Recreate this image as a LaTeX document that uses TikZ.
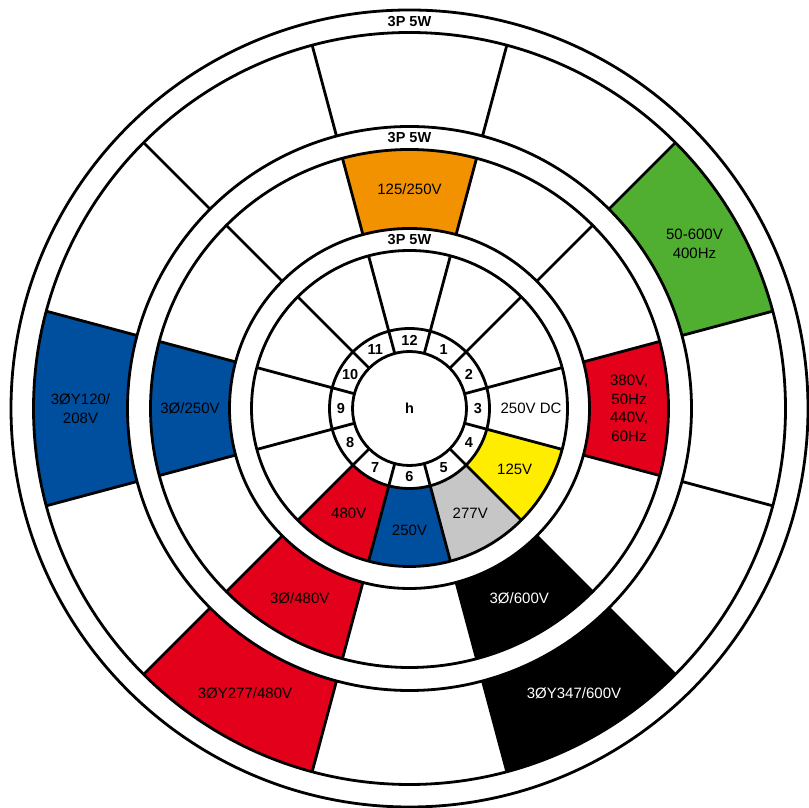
\documentclass[tikz,border=0pt]{standalone}
\usepackage{fontspec}
\setmainfont{Liberation Sans}
\definecolor{cOrange}{RGB}{243,146,0}
\definecolor{cGreen}{RGB}{80,174,48}
\definecolor{cRed}{RGB}{226,0,26}
\definecolor{cBlue}{RGB}{0,79,159}
\definecolor{cYellow}{RGB}{255,237,0}
\definecolor{cGray}{RGB}{198,198,198}
\newcommand\ringsec[4]{%
  \fill[#1] (#2-15:#3pt) arc[start angle=#2-15, end angle=#2+15, radius=#3pt]
    -- (#2+15:#4pt) arc[start angle=#2+15, end angle=#2-15, radius=#4pt] -- cycle;}
\begin{document}
\begin{tikzpicture}[x=1pt,y=1pt, line width=2.8pt,
  lbl/.style={font=\fontsize{15}{18.5}\selectfont, align=center, inner sep=0pt},
  wlbl/.style={lbl, text=white},
  bandlbl/.style={font=\fontsize{14.5}{17}\selectfont\bfseries, inner sep=0pt},
  numlbl/.style={font=\fontsize{14.5}{17}\selectfont\bfseries, inner sep=0pt}]
\useasboundingbox (0,0) rectangle (808,808);
\begin{scope}[shift={(409.5pt,399.5pt)}]
  \fill[white] (0,0) circle (398.5pt);
  % outer ring sectors
  \ringsec{cGreen}{30}{282}{376}
  \ringsec{black}{-60}{282}{376}
  \ringsec{cRed}{-120}{282}{376}
  \ringsec{cBlue}{180}{282}{376}
  % middle ring sectors
  \ringsec{cOrange}{90}{180}{259}
  \ringsec{cRed}{0}{180}{259}
  \ringsec{black}{-60}{180}{259}
  \ringsec{cRed}{-120}{180}{259}
  \ringsec{cBlue}{180}{180}{259}
  % inner ring sectors
  \ringsec{cYellow}{-30}{80}{158}
  \ringsec{cGray}{-60}{80}{158}
  \ringsec{cBlue}{-90}{80}{158}
  \ringsec{cRed}{-120}{80}{158}
  % circles
  \foreach \r in {398.5,376,282,259,180,158,80,57}
    \draw (0,0) circle (\r pt);
  % radial dividers
  \foreach \a in {15,45,...,345} {
    \draw (\a:282pt) -- (\a:376pt);
    \draw (\a:180pt) -- (\a:259pt);
    \draw (\a:57pt) -- (\a:158pt);
  }
  % band labels
  \node[bandlbl] (b1) at (90:387pt) {3P 5W};
  \node[bandlbl] (b2) at (90:270.5pt) {3P 5W};
  \node[bandlbl] (b3) at (90:169pt) {3P 5W};
  % outer ring labels
  \node[lbl] (o1) at (30:329pt) {50-600V\\400Hz};
  \node[wlbl] (o2) at (-60:329pt) {3ØY347/600V};
  \node[lbl] (o3) at (-120:329pt) {3ØY277/480V};
  \node[lbl] (o4) at (180:329pt) {3ØY120/\\208V};
  % middle ring labels
  \node[lbl] (m1) at (90:219.5pt) {125/250V};
  \node[lbl] (m2) at (0:219.5pt) {380V,\\50Hz\\440V,\\60Hz};
  \node[wlbl] (m3) at (-60:219.5pt) {3Ø/600V};
  \node[lbl] (m4) at (-120:219.5pt) {3Ø/480V};
  \node[lbl] (m5) at (180:219.5pt) {3Ø/250V};
  % inner ring labels
  \node[lbl] (i1) at (0:121.5pt) {250V DC};
  \node[lbl] (i2) at (-30:121.5pt) {125V};
  \node[lbl] (i3) at (-60:121.5pt) {277V};
  \node[lbl] (i4) at (-90:121.5pt) {250V};
  \node[lbl] (i5) at (-120:121.5pt) {480V};
  % clock numbers
  \foreach \n in {1,...,12}
    \node[numlbl] (n\n) at ({90-30*\n}:68.5pt) {\n};
  \node[numlbl] (h) at (0,0) {h};
\end{scope}
\end{tikzpicture}
\end{document}
